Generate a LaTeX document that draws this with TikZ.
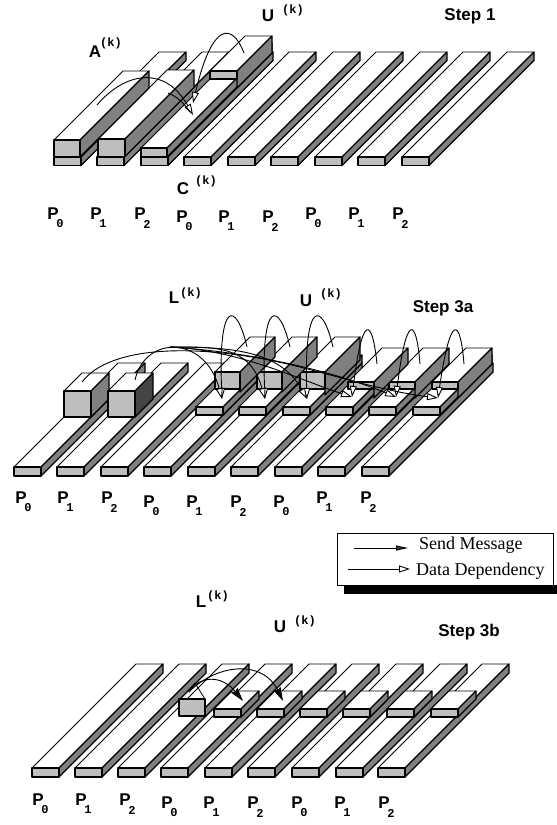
\documentclass[tikz,border=0pt]{standalone}
\usepackage{fontspec}
\usetikzlibrary{arrows.meta}
\newfontfamily\hvfont{Liberation Sans}
\newfontfamily\mnfont{Liberation Mono}
\newfontfamily\tmfont{Liberation Serif}
\definecolor{frontgray}{gray}{0.745}
\definecolor{sidegray}{gray}{0.5}
\definecolor{darkside}{gray}{0.27}
\tikzset{
  edge/.style={draw=black,line width=1.25pt,line join=round},
  thinedge/.style={draw=black,line width=0.8pt,line join=round},
  bigletter/.style={font=\hvfont\bfseries\fontsize{17}{17}\selectfont,inner sep=0pt},
  smallmono/.style={font=\mnfont\bfseries\fontsize{12}{12}\selectfont,inner sep=0pt},
  steptitle/.style={font=\hvfont\bfseries\fontsize{17}{17}\selectfont,inner sep=0pt},
  legendtext/.style={font=\tmfont\fontsize{18}{18}\selectfont,inner sep=0pt},
  curve/.style={draw=black,line width=0.9pt},
  dep/.style={curve,-{Triangle[length=11pt,width=7pt,fill=white]}},
  msg/.style={curve,-{Stealth[length=14pt,width=8pt,inset=2pt]}}
}
% x, y of front top-left; front height; width; depth; side height; side colour
\newcommand\prism[7][sidegray]{%
  \path[thinedge,fill=white] (#2,#3) -- ++(#6,-#6) -- ++(#5,0) -- ++(-#6,#6) -- cycle;
  \path[edge,fill=#1] ({#2+#5},#3) -- ++(#6,-#6) -- ++(0,#7) -- ++(-#6,#6) -- cycle;
  \path[edge,fill=frontgray] (#2,#3) rectangle ({#2+#5},{#3+#4});
}
\newcommand\plabel[4]{%
  \node[bigletter] (#1) at (#2,#3) {P};
  \node[smallmono] (#1s) at ({#2+7},{#3+10}) {#4};
}
\begin{document}
\begin{tikzpicture}[x=1pt,y=-1pt]
\useasboundingbox (0,0) rectangle (557,825);
\fill[white] (0,0) rectangle (557,825);

%% ---------- Step 1
\foreach \sx in {402,358,315,271,228,184,141,97,54}{\prism{\sx}{157}{8.5}{27}{105}{8.5}}
\prism{141}{148}{9}{26}{105}{9}
\prism{210}{71}{8}{27}{35}{17}
\prism{98}{139}{17.5}{27}{69}{17.5}
\prism{54}{140}{17}{26}{69}{17}
\draw[dep] (97,105) .. controls (125,72) and (165,65) .. (193,115);
\draw[curve] (168,93) .. controls (176,96) and (184,103) .. (190,112);
\draw[dep] (244,53) .. controls (232,22) and (212,22) .. (193,103);

\node[bigletter] (a1) at (95,52) {A};
\node[smallmono] (a1k) at (111,43) {(k)};
\node[bigletter] (u1) at (268,16) {U};
\node[smallmono] (u1k) at (293,10) {(k)};
\node[bigletter] (c1) at (183,189) {C};
\node[smallmono] (c1k) at (206,181) {(k)};
\node[steptitle] (s1) at (470,16) {Step 1};
\plabel{pa1}{53}{214}{0}
\plabel{pa2}{96}{214}{1}
\plabel{pa3}{140}{214}{2}
\plabel{pa4}{182}{217}{0}
\plabel{pa5}{224}{217}{1}
\plabel{pa6}{268}{217}{2}
\plabel{pa7}{311}{214}{0}
\plabel{pa8}{354}{214}{1}
\plabel{pa9}{398}{214}{2}

%% ---------- Step 3a
\foreach \sx in {362,318,275,231,188,144,101,57,14}{\prism{\sx}{467}{9}{27}{104}{9}}
\foreach \sx in {413,369,326,283,239,196}{\prism{\sx}{407}{8}{27}{52}{8}}
\prism{432}{382}{7}{26}{34}{16}
\prism{389}{382}{7}{26}{34}{16}
\prism{348}{382}{7}{26}{34}{16}
\prism{300}{372}{17}{25}{35}{23}
\prism{257}{372}{17}{25}{35}{20}
\prism{215}{372}{17}{25}{35}{20}
\prism{64}{391}{26}{27}{18}{26}
\prism[darkside]{108}{391}{26}{27}{18}{26}

\draw[dep] (247,347) .. controls (236,300) and (218,300) .. (222,399);
\draw[dep] (290,347) .. controls (279,300) and (261,300) .. (265,399);
\draw[dep] (333,347) .. controls (322,300) and (304,300) .. (307,399);
\draw[dep] (377,364) .. controls (372,315) and (362,315) .. (352,397);
\draw[dep] (420,364) .. controls (416,315) and (406,315) .. (396,397);
\draw[dep] (464,364) .. controls (460,315) and (450,315) .. (438,398);

\draw[dep] (135,380) .. controls (145,335) and (205,335) .. (222,399);
\draw[dep] (170,347) .. controls (215,347) and (250,345) .. (265,399);
\draw[dep] (170,347) .. controls (230,347) and (280,350) .. (307,399);
\draw[dep] (170,347) .. controls (240,350) and (300,380) .. (352,397);
\draw[dep] (170,347) .. controls (250,352) and (330,370) .. (396,397);
\draw[dep] (82,382) .. controls (110,345) and (200,342) .. (300,367) .. controls (350,380) and (390,392) .. (438,398);

\node[bigletter] (l2) at (174,298) {L};
\node[smallmono] (l2k) at (191,293) {(k)};
\node[bigletter] (u2) at (306,301) {U};
\node[smallmono] (u2k) at (331,294) {(k)};
\node[steptitle] (s2) at (443,308) {Step 3a};
\plabel{pb1}{21}{498}{0}
\plabel{pb2}{63}{498}{1}
\plabel{pb3}{107}{498}{2}
\plabel{pb4}{149}{502}{0}
\plabel{pb5}{192}{502}{1}
\plabel{pb6}{236}{502}{2}
\plabel{pb7}{279}{502}{0}
\plabel{pb8}{322}{498}{1}
\plabel{pb9}{366}{498}{2}

%% ---------- Legend
\fill[black] (344,585) rectangle (557,594);
\node[draw=black,line width=1pt,fill=white,minimum width=216pt,minimum height=52pt,inner sep=0pt] (legend) at (445,559) {};
\node[legendtext,anchor=west] (sendtxt) at (419,545) {Send Message};
\node[legendtext,anchor=west] (deptxt) at (416,571) {Data Dependency};
\coordinate (sendfrom) at (354,548);
\coordinate (sendto) at (408,548);
\coordinate (depfrom) at (348,569);
\coordinate (depto) at (410,569);
\draw[curve,-{Triangle[length=12pt,width=5pt,fill=black!75]}] (sendfrom) -- (sendto);
\draw[dep] (depfrom) -- (depto);

%% ---------- Step 3b
\foreach \sx in {378,336,292,248,205,161,118,75,32}{\prism{\sx}{768}{9}{27}{104}{9}}
\foreach \sx in {431,387,343,300,257,214}{\prism{\sx}{709}{8}{27}{18}{8}}
\path[edge,fill=frontgray] (179,699) rectangle (205,716);
\draw[thinedge] (205,699) -- (195,683) -- (187,692);
\draw[msg] (189,692) .. controls (200,675) and (222,675) .. (243,701);
\draw[msg] (189,692) .. controls (215,665) and (262,658) .. (283,701);

\node[bigletter] (l3) at (201,602) {L};
\node[smallmono] (l3k) at (218,596) {(k)};
\node[bigletter] (u3) at (280,627) {U};
\node[smallmono] (u3k) at (305,621) {(k)};
\node[steptitle] (s3) at (469,632) {Step 3b};
\plabel{pc1}{38}{800}{0}
\plabel{pc2}{81}{800}{1}
\plabel{pc3}{125}{800}{2}
\plabel{pc4}{167}{803}{0}
\plabel{pc5}{209}{803}{1}
\plabel{pc6}{253}{803}{2}
\plabel{pc7}{297}{803}{0}
\plabel{pc8}{340}{803}{1}
\plabel{pc9}{384}{803}{2}
\end{tikzpicture}
\end{document}
